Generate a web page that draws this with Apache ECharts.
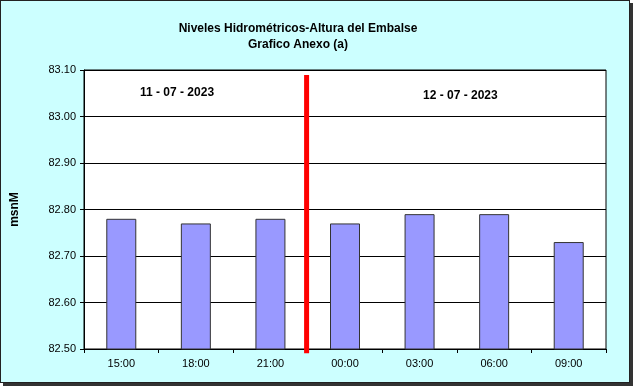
<!DOCTYPE html>
<html><head><meta charset="utf-8">
<script src="https://cdn.jsdelivr.net/npm/echarts@6/dist/echarts.min.js"></script>
<style>
html,body{margin:0;padding:0;background:#fff;}
#wrap{position:absolute;left:0;top:0;width:628px;height:381px;border:1px solid #222;box-shadow:3px 3px 0 #333;background:#CCFFFF;}
#c{width:630px;height:383px;}
</style></head>
<body><div id="wrap"><div id="c"></div></div>
<script>
var categories = ['15:00','18:00','21:00','00:00','03:00','06:00','09:00'];
var levels = [82.78, 82.77, 82.78, 82.77, 82.79, 82.79, 82.73];
var dayLabels = ['11 - 07 - 2023', '12 - 07 - 2023'];
var dividerX = [2.985, 2.985];
var dividerY = [83.089, 82.491];
var titleLines = ['Niveles Hidrométricos-Altura del Embalse', 'Grafico Anexo (a)'];

var chart = echarts.init(document.getElementById('c'));
var font = 'Liberation Sans, Arial, sans-serif';
chart.setOption({
  animation:false,
  backgroundColor:'transparent',
  title:{text:titleLines.join('\n'), left:292, top:15, textAlign:'center',
    textStyle:{fontFamily:font,fontSize:12,fontWeight:'bold',color:'#000',lineHeight:16}},
  grid:{left:82, right:25, top:69, bottom:35, show:true, backgroundColor:'#fff', borderColor:'#000', borderWidth:1},
  xAxis:[{type:'category', data:categories, boundaryGap:true,
    axisLine:{lineStyle:{color:'#000',width:1}},
    axisTick:{show:true, length:4, interval:0, lineStyle:{color:'#000'}},
    axisLabel:{fontFamily:font,fontSize:11,color:'#000',margin:9}},
   {type:'value', min:0, max:7, show:false}],
  yAxis:{type:'value', min:82.5, max:83.1, interval:0.1, name:'msnM', nameLocation:'middle', nameGap:63, nameRotate:90,
    nameTextStyle:{fontFamily:font,fontSize:12,fontWeight:'bold',color:'#000'},
    axisLine:{show:true,lineStyle:{color:'#000'}},
    axisTick:{show:true,length:4,lineStyle:{color:'#000'}},
    axisLabel:{fontFamily:font,fontSize:11,color:'#000',margin:8,formatter:function(v){return v.toFixed(2);}},
    splitLine:{show:true,lineStyle:{color:'#000',width:1}}},
  series:[{type:'bar', data:levels, barWidth:30, xAxisIndex:0,
    itemStyle:{color:'#9999FF', borderColor:'#333', borderWidth:1}},
   {type:'line', xAxisIndex:1, data:[[dividerX[0],dividerY[0]],[dividerX[1],dividerY[1]]], clip:false, symbol:'none',
    lineStyle:{color:'#FF0000', width:5}, z:5}],
  graphic:[
    {type:'text', left:139, top:86, style:{text:dayLabels[0], font:'bold 12px '+font, fill:'#000'}},
    {type:'text', left:422, top:89, style:{text:dayLabels[1], font:'bold 12px '+font, fill:'#000'}}
  ]
});
</script></body></html>
